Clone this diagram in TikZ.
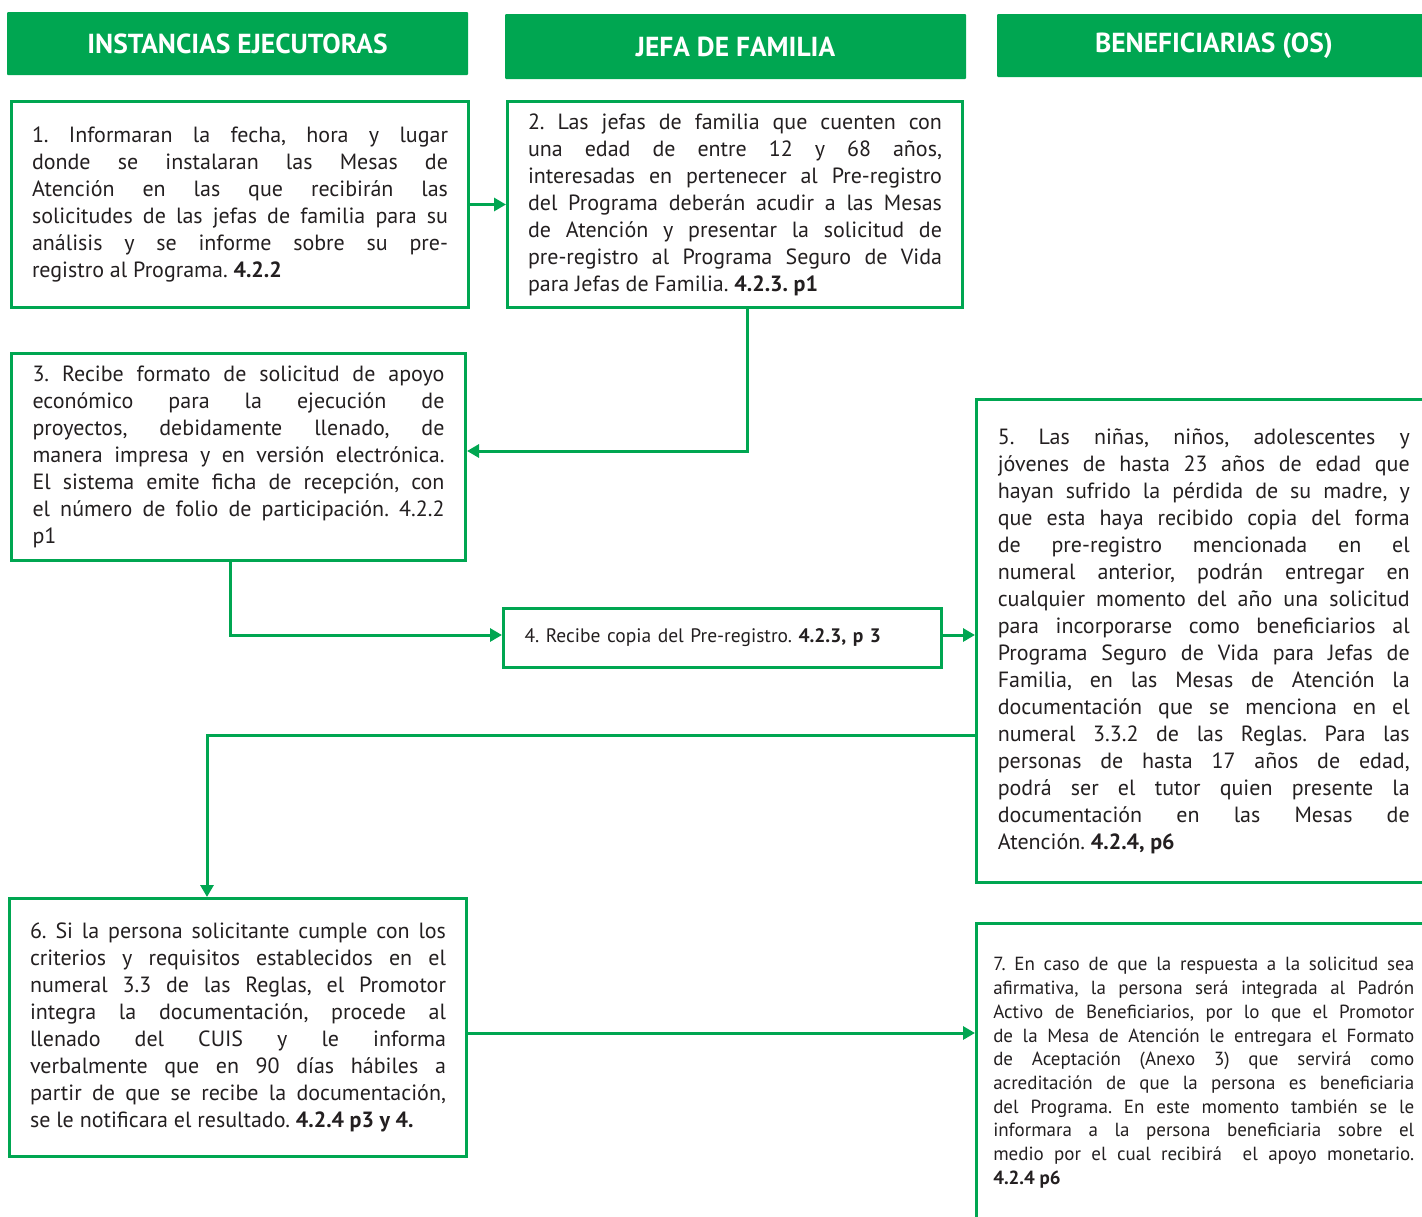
\documentclass[tikz,border=0pt]{standalone}
\usepackage{fontspec}
\setmainfont{PT Sans}
\usetikzlibrary{arrows.meta}
\definecolor{verde}{RGB}{0,166,81}
\definecolor{texto}{RGB}{35,31,32}
\tolerance=9999
\hyphenpenalty=10000
\frenchspacing

\begin{document}
\begin{tikzpicture}[x=1pt,y=-1pt]
\tikzset{encabezado/.style = {fill=verde,text=white,inner sep=0pt,rounded corners=1pt,font=\bfseries\fontsize{27.5}{32}\selectfont}}
\tikzset{paso/.style = {draw=verde,line width=3pt,inner sep=0pt,text=texto,align=justify,font=\fontsize{22}{27}\selectfont}}
\tikzset{flecha/.style = {draw=verde,line width=3pt,-{Triangle[length=12pt,width=13pt]}}}

\useasboundingbox (0,0) rectangle (1422,1216);
\clip (0,0) rectangle (1422,1216);

% Flujo del pre-registro
\node[encabezado,minimum width=461,minimum height=63] (H1) at (237.5,43.5) {INSTANCIAS EJECUTORAS};
\node[encabezado,minimum width=461,minimum height=65] (H2) at (735.5,46.5) {JEFA DE FAMILIA};
\node[encabezado,minimum width=434,minimum height=63] (H3) at (1214,45.5) {BENEFICIARIAS (OS)};

\node[paso,minimum width=457,minimum height=206,text width=416] (A) at (240,204.5) {1. Informaran la fecha, hora y lugar\linebreak donde se instalaran las Mesas de\linebreak Atención en las que recibirán las\linebreak solicitudes de las jefas de familia para su\linebreak análisis y se informe sobre su pre-\linebreak registro al Programa. \textbf{4.2.2}};
\node[paso,minimum width=455,minimum height=206,text width=414] (B) at (735,204.5) {2. Las jefas de familia que cuenten con\linebreak una edad de entre 12 y 68 años,\linebreak interesadas en pertenecer al Pre-registro\linebreak del Programa deberán acudir a las Mesas\linebreak de Atención y presentar la solicitud de\linebreak pre-registro al Programa Seguro de Vida\linebreak para Jefas de Familia. \textbf{4.2.3. p1}};
\node[paso,minimum width=454,minimum height=207,text width=412] (C) at (238.5,457) {3. Recibe formato de solicitud de apoyo\linebreak económico para la ejecución de\linebreak proyectos, debidamente llenado, de\linebreak manera impresa y en versión electrónica.\linebreak El sistema emite ficha de recepción, con\linebreak el número de folio de participación. 4.2.2\linebreak p1};
\node[paso,minimum width=438,minimum height=59,text width=396,align=left,font=\fontsize{19.5}{23}\selectfont] (D) at (722.5,638) {4. Recibe copia del Pre-registro. \textbf{4.2.3, p 3}};
\node[paso,minimum width=454.5,minimum height=483,text width=412] (E) at (1203.75,641) {5. Las niñas, niños, adolescentes y\linebreak jóvenes de hasta 23 años de edad que\linebreak hayan sufrido la pérdida de su madre, y\linebreak que esta haya recibido copia del forma\linebreak de pre-registro mencionada en el\linebreak numeral anterior, podrán entregar en\linebreak cualquier momento del año una solicitud\linebreak para incorporarse como beneficiarios al\linebreak Programa Seguro de Vida para Jefas de\linebreak Familia, en las Mesas de Atención la\linebreak documentación que se menciona en el\linebreak numeral 3.3.2 de las Reglas. Para las\linebreak personas de hasta 17 años de edad,\linebreak podrá ser el tutor quien presente la\linebreak documentación en las Mesas de\linebreak Atención. \textbf{4.2.4, p6}};
\node[paso,minimum width=457,minimum height=258,text width=416] (F) at (238,1027.5) {6. Si la persona solicitante cumple con los\linebreak criterios y requisitos establecidos en el\linebreak numeral 3.3 de las Reglas, el Promotor\linebreak integra la documentación, procede al\linebreak llenado del CUIS y le informa\linebreak verbalmente que en 90 días hábiles a\linebreak partir de que se recibe la documentación,\linebreak se le notificara el resultado. \textbf{4.2.4 p3 y 4.}};
\node[paso,minimum width=454.5,minimum height=298.5,text width=421,font=\fontsize{19}{23.7}\selectfont] (G) at (1203.75,1072.75) {7. En caso de que la respuesta a la solicitud sea\linebreak afirmativa, la persona será integrada al Padrón\linebreak Activo de Beneficiarios, por lo que el Promotor\linebreak de la Mesa de Atención le entregara el Formato\linebreak de Aceptación (Anexo 3) que servirá como\linebreak acreditación de que la persona es beneficiaria\linebreak del Programa. En este momento también se le\linebreak informara a la persona beneficiaria sobre el\linebreak medio por el cual recibirá \ el apoyo monetario.\linebreak \textbf{4.2.4 p6}};

\draw[flecha] (A) -- (B);
\draw[flecha] ([xshift=12pt]B.south) |- ([yshift=6pt]C.east);
\draw[flecha] ([xshift=-8.5pt]C.south) |- ([yshift=3pt]D.west);
\draw[flecha] ([yshift=3pt]D.east) -- ([yshift=3pt]D.east -| E.west);
\draw[flecha] ([yshift=-94pt]E.west) -| ([xshift=-31pt]F.north);
\draw[flecha] ([yshift=-5.5pt]F.east) -- ([yshift=-5.5pt]F.east -| G.west);

\end{tikzpicture}
\end{document}
